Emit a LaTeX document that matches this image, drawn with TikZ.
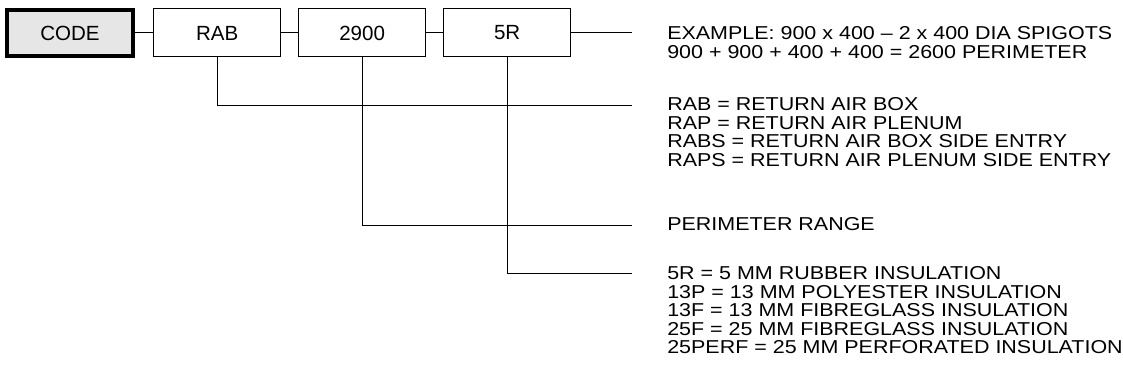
\documentclass[tikz,border=0pt]{standalone}
\usepackage{fontspec}
\setmainfont{Liberation Sans}
\newfontfamily\legendfont[FakeStretch=1.15, Ligatures=TeX]{Liberation Sans}
\usetikzlibrary{positioning}
\definecolor{codefill}{RGB}{230,230,230}
\tikzset{
        field/.style={draw, line width=0.75pt, minimum width=95.5pt, minimum height=36pt,
                inner sep=0pt, font=\fontsize{15.4}{18}\selectfont},
        codefield/.style={field, line width=3pt, fill=codefill, minimum width=94.5pt, minimum height=34.5pt},
        legend/.style={anchor=north west, inner sep=0pt, align=left,
                font=\legendfont\fontsize{14}{13.8}\selectfont},
        link/.style={line width=0.75pt},
}

\begin{document}
\begin{tikzpicture}[x=0.75pt, y=-0.75pt]
        \useasboundingbox (0,0) rectangle (1123,378);

        % code fields
        \node (C) [codefield] at (70,33) {CODE};
        \node (A) [field, right=13.5pt of C] {RAB};
        \node (P) [field, right=12.5pt of A] {2900};
        \node (I) [field, right=12.5pt of P] {5R};

        \draw [link] (C) -- (A);
        \draw [link] (A) -- (P);
        \draw [link] (P) -- (I);

        % ends of the leader lines
        \coordinate (X) at (632,0);
        \coordinate (XA) at (632,105);
        \coordinate (XP) at (632,225);
        \coordinate (XI) at (632,273);

        \draw [link] (I.east) -- (I.east -| X);
        \draw [link] (A.south) |- (XA);
        \draw [link] (P.south) |- (XP);
        \draw [link] (I.south) |- (XI);

        % legend texts
        \node (LX) [legend] at (667,26.6) {EXAMPLE: 900 x 400 -- 2 x 400 DIA SPIGOTS\\
                900 + 900 + 400 + 400 = 2600 PERIMETER};
        \node (LA) [legend] at (667,97.5) {RAB = RETURN AIR BOX\\
                RAP = RETURN AIR PLENUM\\
                RABS = RETURN AIR BOX SIDE ENTRY\\
                RAPS = RETURN AIR PLENUM SIDE ENTRY};
        \node (LP) [legend] at (667,217.5) {PERIMETER RANGE};
        \node (LI) [legend] at (667,266.5) {5R = 5 MM RUBBER INSULATION\\
                13P = 13 MM POLYESTER INSULATION\\
                13F = 13 MM FIBREGLASS INSULATION\\
                25F = 25 MM FIBREGLASS INSULATION\\
                25PERF = 25 MM PERFORATED INSULATION};
\end{tikzpicture}
\end{document}
